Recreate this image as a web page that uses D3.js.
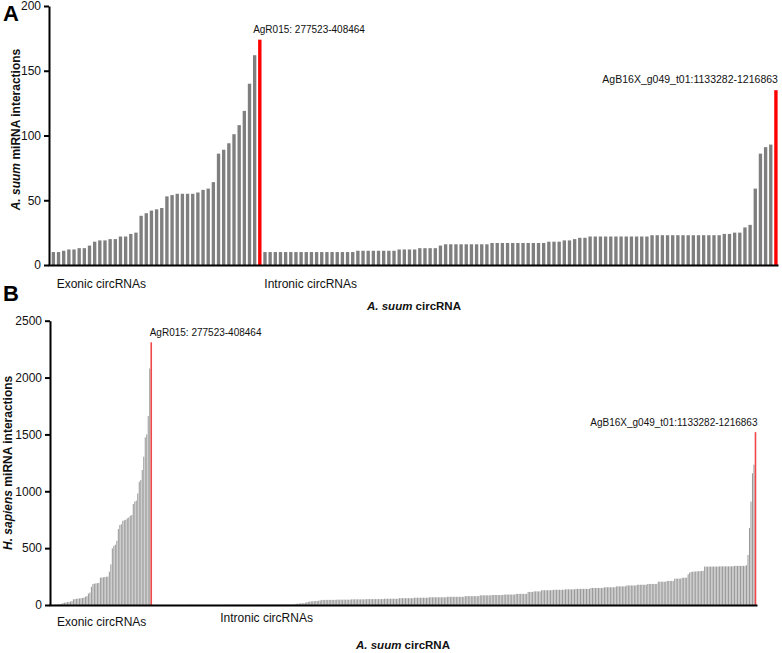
<!DOCTYPE html>
<html>
<head>
<meta charset="utf-8">
<script src="https://cdn.jsdelivr.net/npm/d3@7"></script>
<style>
body { margin: 0; background: #fff; }
svg { font-family: Arial, "Liberation Sans", sans-serif; }
</style>
</head>
<body>
<svg id="chart" width="782" height="653"></svg>
<script>
// ---- panel A: A. suum miRNA interactions ----
var exonA = [10,10,11,12,12,13,13,15,18,19,19,20,20,22,22,24,25,38,40,42,
             43,44,53,54,55,55,55,55,56,58,59,64,86,89,94,101,108,119,140,162];
var peakA1 = 174;
var intronA = [10,10,10,10,10,10,10,10,10,10,10,10,10,10,10,10,10,10,
               11,11,11,11,11,11,11,11, 12,12,12,12, 13,13,13,13, 15,
               16,16,16,16,16,16,16,16,16,
               17,17,17,17,17,17,17,17,17,17,17, 18,18,18, 19,19, 20,21,21,
               22,22,22,22,22,22,22,22,22,22,22,22,
               23,23,23,23,23,23,23,23,23,23,23,23,23,23,
               24,24, 25,25, 29,31,59,86,91,93];
var peakA2 = 135;
var ticksA = [0, 50, 100, 150, 200];

// ---- panel B: H. sapiens miRNA interactions ----
var exonB = [2,3,4,5,6,8,10, 18,20,22,25,28,30,35, 50,52,55,56,58,60,62,65,
             73,78, 100,110, 160, 185,188,190,192,195, 240,242,244,246,248,250,
             293, 357, 498, 520,530, 565, 668, 703,710, 740,745,750, 762,770,
             785,791, 888, 910,918, 981, 1084,1100, 1187, 1304, 1474, 1500, 1661, 2080];
var peakB1 = 2310;
var intronB = [1,1,1,1,1,1,1,1,1,1, 1,1,1,1,1,1,1,1,1,1, 1,1,1,1,1,2,2,2,2,2,
               2,2,2,2,2,2,2,2,2,2, 2,2,2,2,2,2,2,2,2,2, 3,3,3,3,3,3,3,3,3,3,
               3,3,3,3,3,3,3,3,3,3, 4,4,4,4,4,4,4,4,4,4, 4,4,4,4,4,5,5,5,5,5,
               5,5,5,5,5,
               8,10,12,13,15,15,16, 20,24,28,30,32,33,34,35,36,38,40,
               45,45,45,45,45,45,45,45,45,45, 47,47,47,47,47,47,47,47,47,47,
               50,50,50,50,50,50,50,50,50,50, 52,52,52,52,52,52,52,52,52,52,52,52,
               55,55,55,55,55,55,55,55,55,55,
               60,60,60,60,60,60,60,60,60,60, 64,64,64,64,64,64,64,64,64,64,
               68,68,68,68,68,68,68,68,68,68,68,68, 72,72,72,72,72,72,72,72,72,72,72,72,
               78,78,78,78,78,78,78,78,78,78,
               85,85,85,85,85,85,85,85, 88,88,88,88,88,88,88,88,
               92,92,92,92,92,92,92,92, 98,98,98,98,98,98,98,98,
               115,115,115,115, 120,120,120,120,120,
               130,130,130,130,130,130,130,130, 134,134,134,134,134,134,134,134,
               138,138,138,138,138,138,138,
               142,142,142,142,142,142,142,142,142,142, 150,150,150,150,150,150,150,150,150,
               156,156,156,156,156,156,156,156, 164,164,164,164,164,164,164,
               172,172,172,172,172,172,172, 178,178,178,178,178,178,178,
               185,185,185,185,185,185,185,
               205,205,205,205,205,205, 212,212,212,212,212,
               232,232,232,232,232, 240,240,240,240,
               270,285,290, 293,294,295,296,297,298,299,300,
               338,338,338,338,338,338,338,338,338,338, 340,340,340,340,340,340,340,340,340,340,
               344,344,344,344,344,344,344,344,
               350,440, 677,909,1158,1234];
var peakB2 = 1520;
var ticksB = [0, 500, 1000, 1500, 2000, 2500];

var labelPeak1 = "AgR015: 277523-408464";
var labelPeak2 = "AgB16X_g049_t01:1133282-1216863";

var svg = d3.select('#chart');

function buildBars(exon, p1, intron, p2) {
    var bars = [];
    exon.forEach(function(v) { bars.push({v: v, peak: false}); });
    bars.push({v: p1, peak: true, which: 1});
    intron.forEach(function(v) { bars.push({v: v, peak: false}); });
    bars.push({v: p2, peak: true, which: 2});
    bars.forEach(function(d, i) { d.i = i; });
    return bars;
}

function drawPanel(c) {
    var bars = buildBars(c.exon, c.p1, c.intron, c.p2);
    var g = svg.append('g');

    var x = d3.scaleBand().domain(bars.map(function(d) { return d.i; }))
        .range(c.xRange).paddingInner(c.pad).paddingOuter(0);
    var y = d3.scaleLinear().domain([0, c.max]).range([c.y0, c.y1]);

    // grey bars
    g.selectAll('.bar').data(bars.filter(function(d) { return !d.peak; }))
        .enter().append('rect')
        .attr('class', 'bar')
        .attr('x', function(d) { return x(d.i); })
        .attr('width', x.bandwidth())
        .attr('y', function(d) { return y(d.v); })
        .attr('height', function(d) { return y(0) - y(d.v); })
        .attr('fill', c.grey);

    // highlighted circRNAs
    var peaks = bars.filter(function(d) { return d.peak; });
    g.selectAll('.peak').data(peaks)
        .enter().append('rect')
        .attr('class', 'peak')
        .attr('x', function(d) { return x(d.i) + x.bandwidth() / 2 - c.redW / 2; })
        .attr('width', c.redW)
        .attr('y', function(d) { return y(d.v); })
        .attr('height', function(d) { return y(0) - y(d.v); })
        .attr('fill', c.red);

    g.selectAll('.plab').data(peaks)
        .enter().append('text')
        .attr('x', function(d) { return d.which == 1 ? x(d.i) - c.lab1dx : x(d.i) + x.bandwidth() / 2 + 2; })
        .attr('y', function(d) { return y(d.v) - c.labGap; })
        .attr('text-anchor', function(d) { return d.which == 1 ? 'start' : 'end'; })
        .attr('font-size', function(d) { return d.which == 1 ? c.lab1Size : c.lab2Size; })
        .attr('fill', '#111')
        .text(function(d) { return d.which == 1 ? labelPeak1 : labelPeak2; });

    // axes
    var yAxis = g.append('g')
        .attr('transform', 'translate(' + c.axisX + ',0)')
        .call(d3.axisLeft(y).tickValues(c.ticks).tickFormat(d3.format('d'))
            .tickSize(5).tickSizeOuter(0).tickPadding(3));
    yAxis.selectAll('path, line').attr('stroke', '#000').attr('stroke-width', 2);
    yAxis.selectAll('text').attr('font-size', 12).attr('fill', '#111')
        .attr('font-family', 'Arial, "Liberation Sans", sans-serif');

    var xLine = d3.scaleLinear().range([c.axisX - 1, c.xEnd]);
    var xAxis = g.append('g')
        .attr('transform', 'translate(0,' + y(0) + ')')
        .call(d3.axisBottom(xLine).tickValues([]).tickSizeOuter(0));
    xAxis.select('path').attr('stroke', '#000').attr('stroke-width', 2);

    // group labels
    var exonStart = x(0);
    var intronStart = x(c.exon.length + 1);
    g.append('text').attr('x', exonStart + c.exDx).attr('y', c.exY)
        .attr('font-size', 12).attr('fill', '#111').text('Exonic circRNAs');
    g.append('text').attr('x', intronStart + c.inDx).attr('y', c.inY)
        .attr('font-size', 12).attr('fill', '#111').text('Intronic circRNAs');

    // axis titles
    var xt = g.append('text').attr('x', c.xTitleX).attr('y', c.xTitleY)
        .attr('text-anchor', 'middle').attr('font-size', 11.5).attr('font-weight', 'bold').attr('fill', '#111');
    xt.append('tspan').attr('font-style', 'italic').text('A. suum');
    xt.append('tspan').text(' circRNA');

    var yt = g.append('text')
        .attr('transform', 'translate(' + c.yTitleX + ',' + ((c.y0 + c.y1) / 2 + c.yTitleDy) + ') rotate(-90)')
        .attr('text-anchor', 'middle').attr('font-size', 12).attr('font-weight', 'bold').attr('fill', '#111');
    yt.append('tspan').attr('font-style', 'italic').text(c.species);
    yt.append('tspan').text(' miRNA interactions');

    g.append('text').attr('x', 3).attr('y', c.letterY)
        .attr('font-size', 22).attr('font-weight', 'bold').attr('fill', '#000').text(c.letter);
}

drawPanel({
    exon: exonA, p1: peakA1, intron: intronA, p2: peakA2,
    max: 200, ticks: ticksA, y0: 265, y1: 6,
    xRange: [51.7, 777.6], pad: 0.35, axisX: 49, xEnd: 778,
    grey: '#7f7f7f', red: '#ff0000', redW: 3.4,
    lab1dx: 5, lab1Size: 10, lab2Size: 10.5, labGap: 7,
    exDx: 5, exY: 288, inDx: 1, inY: 288,
    xTitleX: 414, xTitleY: 310,
    yTitleX: 20, yTitleDy: -6, species: 'A. suum',
    letter: 'A', letterY: 21
});

drawPanel({
    exon: exonB, p1: peakB1, intron: intronB, p2: peakB2,
    max: 2500, ticks: ticksB, y0: 605, y1: 320.7,
    xRange: [52, 756], pad: 0.3, axisX: 50, xEnd: 757,
    grey: '#9a9a9a', red: '#f04848', redW: 1.6,
    lab1dx: 1, lab1Size: 10, lab2Size: 10, labGap: 6,
    exDx: 5, exY: 626, inDx: 68, inY: 622,
    xTitleX: 403, xTitleY: 649,
    yTitleX: 12, yTitleDy: 0, species: 'H. sapiens',
    letter: 'B', letterY: 301
});
</script>
</body>
</html>
